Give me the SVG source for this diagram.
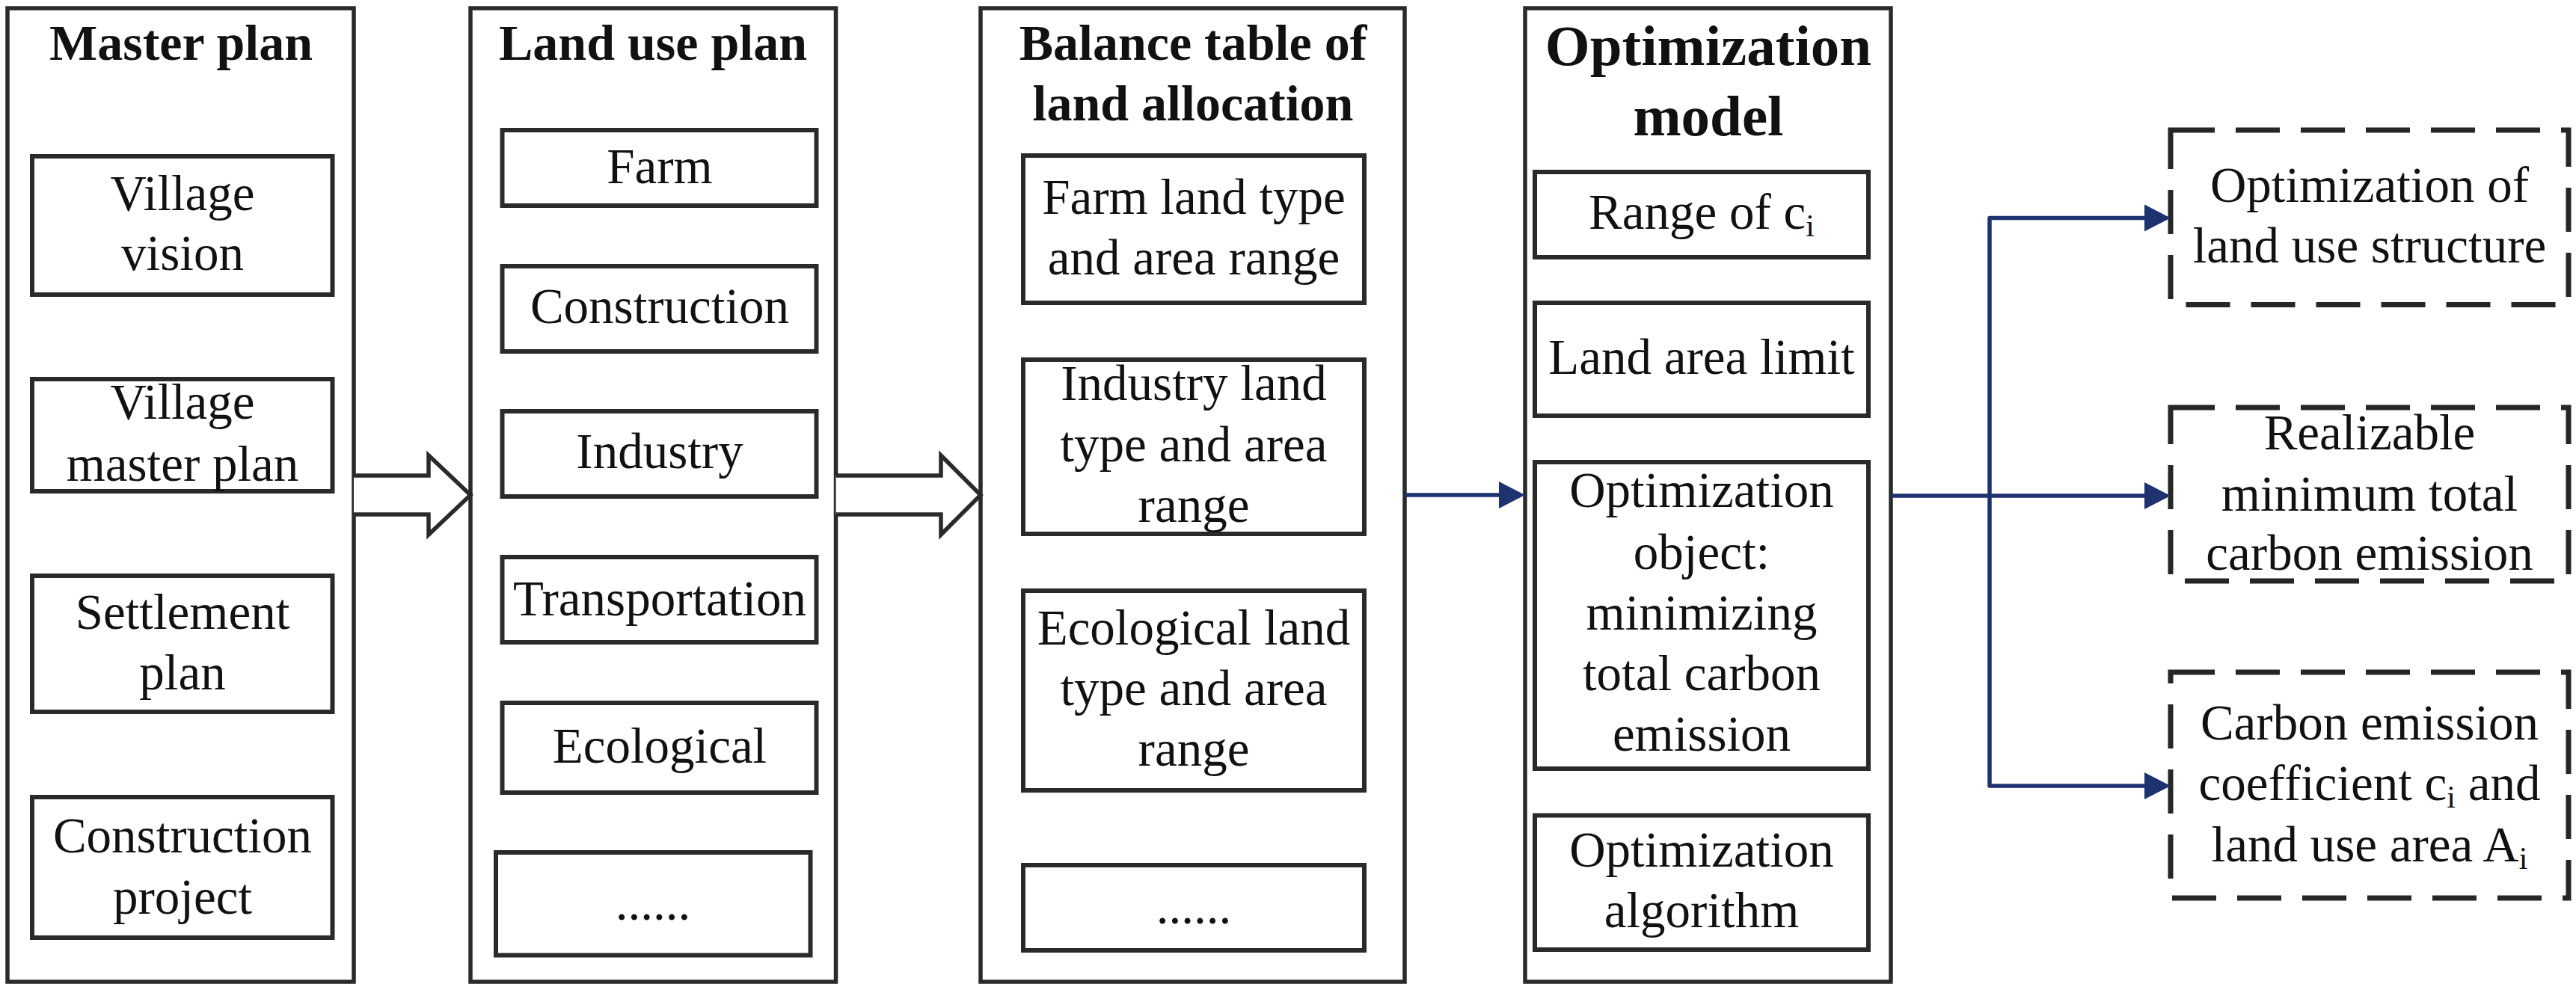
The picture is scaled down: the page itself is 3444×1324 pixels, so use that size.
<svg xmlns="http://www.w3.org/2000/svg" width="3444" height="1324" viewBox="0 0 3444 1324">
<style>
.outer{fill:#fff;stroke:#2a2a2a;stroke-width:5.5}
.inner{fill:#fff;stroke:#2a2a2a;stroke-width:6}
.dash{fill:#fff;stroke:#262626;stroke-width:7;stroke-dasharray:59 28}
.hollow{fill:#fff;stroke:#2a2a2a;stroke-width:5.5;stroke-linejoin:miter}
.conn{fill:none;stroke:#1f3270;stroke-width:5.5;stroke-linejoin:round}
text{font-family:"Liberation Serif","Times New Roman",serif;fill:#111;text-anchor:middle}
.t{font-size:68px;font-weight:bold}
.tb{font-size:77px;font-weight:bold}
.b{font-size:67px}
.sub{font-size:42px}
</style>
<defs>
<marker id="ah" markerUnits="userSpaceOnUse" markerWidth="36" markerHeight="38" refX="5" refY="18" orient="auto">
<path d="M0,0 L35,18 L0,36 Z" fill="#1f3270"/>
</marker>
</defs>

<g id="master-plan">
<rect class="outer" x="10" y="11" width="463" height="1302"/>
<text class="t" x="242" y="80">Master plan</text>
</g>
<g id="village-vision">
<rect class="inner" x="43" y="209" width="401.5" height="185"/>
<text class="b" x="244" y="281">Village</text>
<text class="b" x="244" y="361">vision</text>
</g>
<g id="village-master-plan">
<rect class="inner" x="43" y="507" width="401.5" height="150"/>
<text class="b" x="244" y="560">Village</text>
<text class="b" x="244" y="643">master plan</text>
</g>
<g id="settlement-plan">
<rect class="inner" x="43" y="770" width="401.5" height="182"/>
<text class="b" x="244" y="841">Settlement</text>
<text class="b" x="244" y="922">plan</text>
</g>
<g id="construction-project">
<rect class="inner" x="43" y="1066" width="401.5" height="188"/>
<text class="b" x="244" y="1140">Construction</text>
<text class="b" x="244" y="1222">project</text>
</g>

<g id="land-use-plan">
<rect class="outer" x="629" y="11" width="488.5" height="1302"/>
<text class="t" x="873" y="80">Land use plan</text>
</g>
<g id="lu-farm">
<rect class="inner" x="671.5" y="174" width="420" height="101"/>
<text class="b" x="882" y="245">Farm</text>
</g>
<g id="lu-construction">
<rect class="inner" x="671.5" y="356" width="420" height="114"/>
<text class="b" x="882" y="432">Construction</text>
</g>
<g id="lu-industry">
<rect class="inner" x="671.5" y="550" width="420" height="114"/>
<text class="b" x="882" y="626">Industry</text>
</g>
<g id="lu-transportation">
<rect class="inner" x="671.5" y="745" width="420" height="114"/>
<text class="b" x="882" y="823">Transportation</text>
</g>
<g id="lu-ecological">
<rect class="inner" x="671.5" y="940" width="420" height="120"/>
<text class="b" x="882" y="1020">Ecological</text>
</g>
<g id="lu-more">
<rect class="inner" x="663" y="1140" width="420.5" height="137.5"/>
<text class="b" x="873" y="1230">......</text>
</g>

<g id="balance-table">
<rect class="outer" x="1311" y="11" width="567" height="1302"/>
<text class="t" x="1595" y="80">Balance table of</text>
<text class="t" x="1595" y="161">land allocation</text>
</g>
<g id="bt-farm">
<rect class="inner" x="1368" y="208" width="456" height="197"/>
<text class="b" x="1596" y="286">Farm land type</text>
<text class="b" x="1596" y="367">and area range</text>
</g>
<g id="bt-industry">
<rect class="inner" x="1368" y="481" width="456" height="233"/>
<text class="b" x="1596" y="535">Industry land</text>
<text class="b" x="1596" y="617">type and area</text>
<text class="b" x="1596" y="698">range</text>
</g>
<g id="bt-ecological">
<rect class="inner" x="1368" y="790" width="456" height="267"/>
<text class="b" x="1596" y="862">Ecological land</text>
<text class="b" x="1596" y="943">type and area</text>
<text class="b" x="1596" y="1024">range</text>
</g>
<g id="bt-more">
<rect class="inner" x="1368" y="1157" width="456" height="114"/>
<text class="b" x="1596" y="1235">......</text>
</g>

<g id="optimization-model">
<rect class="outer" x="2039" y="11" width="489" height="1302"/>
<text class="tb" x="2284" y="87">Optimization</text>
<text class="tb" x="2284" y="181">model</text>
</g>
<g id="om-range">
<rect class="inner" x="2052" y="230" width="446" height="114"/>
<text class="b" x="2275" y="306">Range of c<tspan class="sub" dy="10">i</tspan></text>
</g>
<g id="om-limit">
<rect class="inner" x="2052" y="405" width="446" height="151"/>
<text class="b" x="2275" y="500">Land area limit</text>
</g>
<g id="om-object">
<rect class="inner" x="2052" y="618" width="446" height="410"/>
<text class="b" x="2275" y="678">Optimization</text>
<text class="b" x="2275" y="761">object:</text>
<text class="b" x="2275" y="842">minimizing</text>
<text class="b" x="2275" y="923">total carbon</text>
<text class="b" x="2275" y="1004">emission</text>
</g>
<g id="om-algorithm">
<rect class="inner" x="2052" y="1090.5" width="446" height="179.5"/>
<text class="b" x="2275" y="1159">Optimization</text>
<text class="b" x="2275" y="1240">algorithm</text>
</g>

<g id="out-structure">
<rect class="dash" x="2902" y="174" width="532" height="233.5"/>
<text class="b" x="3168" y="270">Optimization of</text>
<text class="b" x="3168" y="351">land use structure</text>
</g>
<g id="out-minimum">
<rect class="dash" x="2902" y="545" width="532" height="232"/>
<text class="b" x="3168" y="601">Realizable</text>
<text class="b" x="3168" y="683">minimum total</text>
<text class="b" x="3168" y="762">carbon emission</text>
</g>
<g id="out-coefficient">
<rect class="dash" x="2902" y="899" width="532" height="302"/>
<text class="b" x="3168" y="989">Carbon emission</text>
<text class="b" x="3168" y="1070">coefficient c<tspan class="sub" dy="10">i</tspan><tspan dy="-10"> and</tspan></text>
<text class="b" x="3168" y="1152">land use area A<tspan class="sub" dy="10">i</tspan></text>
</g>

<g id="connectors">
<path class="hollow" d="M473,636 H573 V609 L629,662 L573,715 V688 H473"/>
<path class="hollow" d="M1117.5,636 H1258 V609 L1311,662 L1258,715 V688 H1117.5"/>
<path class="conn" d="M1878,662 H2009" marker-end="url(#ah)"/>
<path class="conn" d="M2528,663 H2872" marker-end="url(#ah)"/>
<path class="conn" d="M2660,663 V291.5 H2872" marker-end="url(#ah)"/>
<path class="conn" d="M2660,663 V1051 H2872" marker-end="url(#ah)"/>
</g>
</svg>
